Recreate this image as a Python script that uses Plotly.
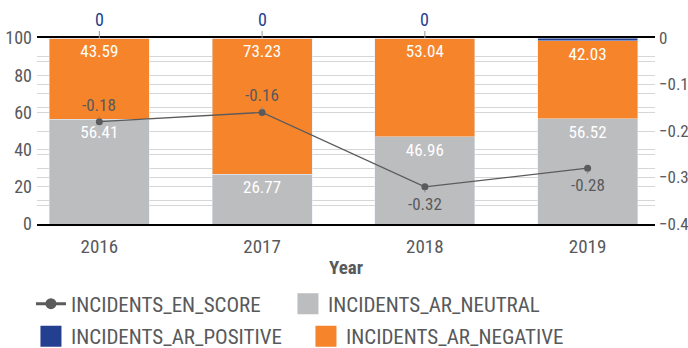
import plotly.graph_objects as go

# Yearly incident sentiment shares (percent) and English score
years = ["2016", "2017", "2018", "2019"]
ar_neutral = [56.41, 26.77, 46.96, 56.52]
ar_negative = [43.59, 73.23, 53.04, 42.03]
ar_positive = [0, 0, 0, 1.45]
en_score = [-0.18, -0.16, -0.32, -0.28]

FONT = "Liberation Sans Narrow, Roboto Condensed, DejaVu Sans Condensed, sans-serif"
TXT = "#58595b"
GREY = "#bcbdbf"
ORANGE = "#f5842b"
BLUE = "#233f8f"
LINE = "#5b5b5d"

fig = go.Figure()

fig.add_trace(go.Bar(
    x=years, y=ar_neutral, name="INCIDENTS_AR_NEUTRAL", marker_color=GREY,
    text=[f"{v:.2f}" for v in ar_neutral], textposition="inside",
    insidetextanchor="end", textfont=dict(color="white", size=17, family=FONT),
    width=0.615, showlegend=False, legendgroup="neu",
))
fig.add_trace(go.Bar(
    x=years, y=ar_negative, name="INCIDENTS_AR_NEGATIVE", marker_color=ORANGE,
    text=[f"{v:.2f}" for v in ar_negative], textposition="inside",
    insidetextanchor="end", textfont=dict(color="white", size=17, family=FONT),
    width=0.615, showlegend=False, legendgroup="neg",
))
fig.add_trace(go.Bar(
    x=years, y=ar_positive, name="INCIDENTS_AR_POSITIVE", marker_color=BLUE,
    width=0.615, showlegend=False, legendgroup="pos",
))
fig.add_trace(go.Scatter(
    x=years, y=en_score, name="INCIDENTS_EN_SCORE", yaxis="y2",
    mode="lines+markers", line=dict(color=LINE, width=1.3),
    marker=dict(color=LINE, size=7), showlegend=False, legendgroup="score",
))

# legend entries drawn with heavier symbols than the plotted marks
fig.add_trace(go.Scatter(
    x=[None], y=[None], mode="lines+markers", name="INCIDENTS_EN_SCORE",
    legendgroup="score", line=dict(color=LINE, width=3),
    marker=dict(color=LINE, size=11), legend="legend",
))

def swatch(name, color, group, legend):
    fig.add_trace(go.Scatter(
        x=[None], y=[None], mode="markers", name=name, legendgroup=group,
        marker=dict(symbol="square", size=16, color=color,
                    line=dict(color=color, width=5)),
        legend=legend,
    ))

swatch("INCIDENTS_AR_NEUTRAL", GREY, "neu", "legend")
swatch("INCIDENTS_AR_POSITIVE", BLUE, "pos", "legend2")
swatch("INCIDENTS_AR_NEGATIVE", ORANGE, "neg", "legend2")

annotations = []
# positive share shown above each stack
for i, (n, ng, p) in enumerate(zip(ar_neutral, ar_negative, ar_positive)):
    annotations.append(dict(
        x=i, y=n + ng + p, xref="x", yref="y", text=f"{p:g}",
        showarrow=True, arrowhead=0, arrowcolor="#9a9a9a", arrowwidth=1,
        ax=0, ay=-19, font=dict(color=BLUE, size=18, family=FONT),
    ))
# score labels: above for higher scores, below for lower ones
mean_score = sum(en_score) / len(en_score)
for i, s in enumerate(en_score):
    above = s >= mean_score
    annotations.append(dict(
        x=i, y=s, xref="x", yref="y2", text=f"{s:.2f}",
        showarrow=True, arrowhead=0, arrowcolor="#8a8a8a", arrowwidth=1,
        standoff=3, ax=0, ay=-17 if above else 17,
        font=dict(color=TXT, size=17, family=FONT),
    ))

legend_style = dict(
    orientation="h", x=0.045, xanchor="left", xref="container",
    yref="container", yanchor="middle",
    font=dict(size=21, color=TXT), itemwidth=30, tracegroupgap=0,
    bgcolor="rgba(0,0,0,0)",
)

fig.update_layout(
    width=688, height=348,
    margin=dict(l=37, r=33, t=38, b=124),
    barmode="stack",
    plot_bgcolor="white", paper_bgcolor="white",
    font=dict(family=FONT, color=TXT, size=16),
    annotations=annotations,
    xaxis=dict(
        type="category", range=[-0.383, 3.414], automargin=False,
        showline=True, mirror=True, linecolor="black", linewidth=1.5,
        ticks="", tickfont=dict(size=19, color=TXT), ticklabelstandoff=4,
        title=dict(text="<b>Year</b>", font=dict(size=19, color=TXT), standoff=4),
    ),
    yaxis=dict(
        range=[0, 100], dtick=20, automargin=False,
        showgrid=True, gridcolor="#d6d6d6", gridwidth=1,
        minor=dict(dtick=10, showgrid=True, gridcolor="#d6d6d6", gridwidth=1),
        zeroline=False, showline=False, ticks="",
        tickfont=dict(size=18, color=TXT), ticklabelstandoff=4,
    ),
    yaxis2=dict(
        overlaying="y", side="right", range=[-0.4, 0], dtick=0.1, automargin=False,
        showgrid=True, gridcolor="#d6d6d6", gridwidth=1,
        minor=dict(dtick=0.05, showgrid=True, gridcolor="#d6d6d6", gridwidth=1),
        zeroline=False, showline=False, ticks="",
        tickfont=dict(size=17, color=TXT), ticklabelstandoff=3,
    ),
    legend=dict(legend_style, y=(348 - 304) / 348, entrywidth=212),
    legend2=dict(legend_style, y=(348 - 336.5) / 348, entrywidth=230),
)

fig.write_html("out.html")
